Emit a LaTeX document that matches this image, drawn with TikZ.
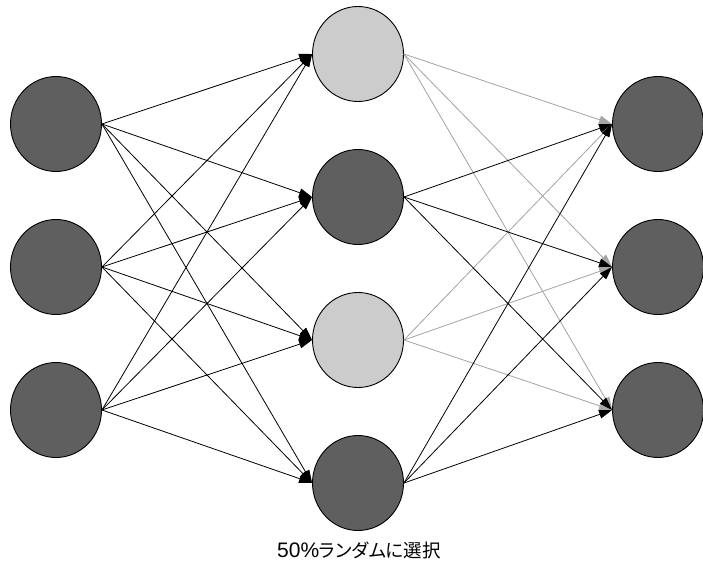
\documentclass[tikz,border=0pt]{standalone}
\usepackage{fontspec}
\setmainfont{Liberation Sans}
\newfontfamily\jpfont[RawFeature=+palt]{Noto Sans CJK JP}
\usetikzlibrary{arrows.meta,shapes.geometric}
\definecolor{unitdark}{HTML}{5F5F5F}
\definecolor{unitlight}{HTML}{CCCCCC}
\definecolor{droplink}{HTML}{A6A6A6}
\begin{document}
\begin{tikzpicture}[x=1pt,y=-1pt,
  neuron/.style={ellipse,draw=black,line width=0.9pt,minimum width=91pt,minimum height=95pt,inner sep=0pt},
  active/.style={neuron,fill=unitdark},
  dropped/.style={neuron,fill=unitlight},
  link/.style={line width=0.8pt,-{Triangle[length=13pt,width=8.5pt]}},
  droplinkstyle/.style={link,draw=droplink,fill=droplink}]
\useasboundingbox (0,0) rectangle (703,572);

% input layer
\node[active] (in1) at (56,124) {};
\node[active] (in2) at (56,267) {};
\node[active] (in3) at (56,410) {};
% hidden layer (light units are dropped)
\node[dropped] (h1) at (358,54) {};
\node[active]  (h2) at (358,197) {};
\node[dropped] (h3) at (358,340) {};
\node[active]  (h4) at (358,483) {};
% output layer
\node[active] (out1) at (658,124) {};
\node[active] (out2) at (658,267) {};
\node[active] (out3) at (658,410) {};

% input -> hidden
\foreach \i in {1,2,3}
  \foreach \j in {1,2,3,4}
    \draw[link] (in\i.east) -- (h\j.west);

% dropped hidden -> output
\foreach \j in {1,3}
  \foreach \k in {1,2,3}
    \draw[droplinkstyle] (h\j.east) -- (out\k.west);
% active hidden -> output
\foreach \j in {2,4}
  \foreach \k in {1,2,3}
    \draw[link] (h\j.east) -- (out\k.west);

\node[inner sep=0pt] (caption) at (359,550)
  {\fontsize{21pt}{24pt}\selectfont 50\%{\jpfont\fontsize{18.5pt}{22pt}\selectfont ランダムに選択}};
\end{tikzpicture}
\end{document}
